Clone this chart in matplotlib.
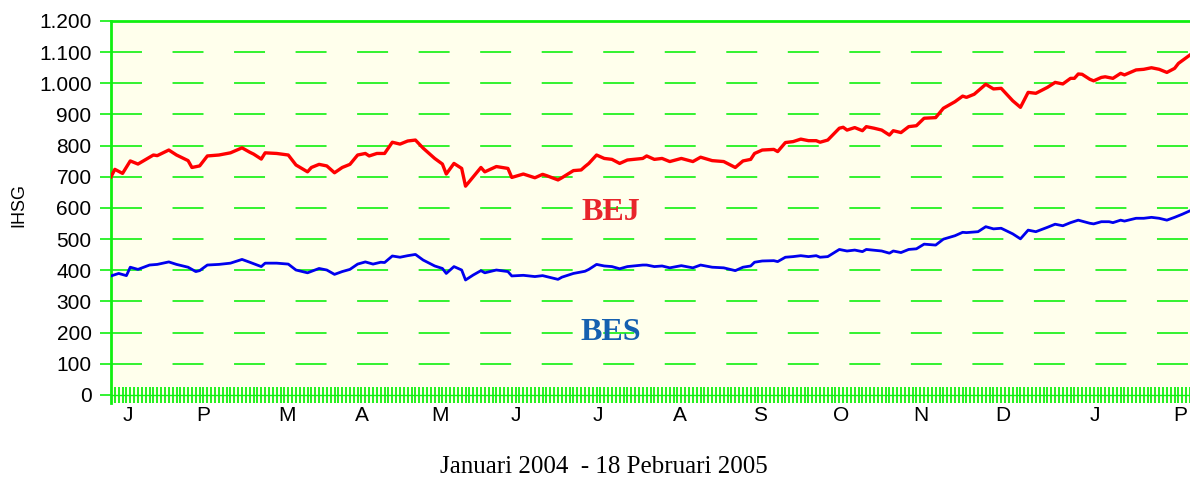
import numpy as np
import matplotlib
matplotlib.use("Agg")
import matplotlib.pyplot as plt

# ---- data (trading-day index, index value) ----
bej_day = [0, 1, 3, 5, 7, 11, 12, 15, 17, 20, 21, 23, 25, 28, 31, 34, 36, 37, 39, 40,
           43, 46, 48, 51, 52, 54, 56, 58, 60, 62, 64, 66, 67, 69, 71, 73, 75, 77, 79, 81,
           84, 86, 87, 89, 91, 92, 94, 96, 97, 100, 103, 104, 107, 110, 112, 113, 116, 117,
           120, 122, 123, 124, 126, 128, 130, 132, 134, 138, 139, 141, 143, 145, 148, 151,
           153, 156, 159, 162, 164, 166, 167, 169, 172, 173, 175, 177, 179, 181, 183, 184,
           186, 189, 190, 191, 193, 195, 196, 198, 200, 202, 203, 205, 207, 209, 211, 214,
           216, 219, 221, 222, 224, 227, 229, 231, 234, 236, 238, 240, 243, 245, 247, 249,
           250, 251, 252, 254, 255, 257, 258, 260, 262, 263, 266, 268, 270, 272, 274, 276,
           277, 280]
bej_val = [700, 724, 711, 751, 741, 770, 768, 786, 770, 752, 730, 735, 767, 770, 777, 793,
           779, 773, 757, 777, 775, 770, 738, 716, 730, 740, 735, 713, 730, 740, 770, 775,
           767, 775, 775, 811, 805, 815, 818, 792, 759, 741, 709, 743, 727, 670, 700, 730,
           716, 733, 727, 698, 709, 697, 708, 704, 690, 697, 720, 722, 733, 743, 770, 759,
           756, 743, 754, 759, 767, 756, 759, 749, 759, 749, 763, 752, 749, 730, 751, 756,
           775, 786, 788, 781, 810, 813, 821, 816, 816, 811, 818, 856, 859, 850, 858, 848,
           861, 856, 850, 834, 848, 842, 861, 864, 888, 890, 920, 941, 959, 955, 965, 997,
           982, 984, 944, 923, 971, 968, 987, 1003, 998, 1016, 1016, 1030, 1029, 1013, 1008,
           1019, 1021, 1016, 1032, 1027, 1043, 1045, 1050, 1045, 1035, 1048, 1064, 1091]

bes_day = [0, 2, 4, 5, 7, 10, 12, 15, 17, 20, 22, 23, 25, 28, 31, 34, 36, 39, 40, 43, 46,
           48, 51, 54, 56, 58, 60, 62, 64, 66, 68, 70, 71, 73, 75, 77, 79, 81, 84, 86, 87,
           89, 91, 92, 94, 96, 97, 100, 103, 104, 107, 110, 112, 116, 117, 120, 123, 124,
           126, 128, 130, 132, 134, 138, 139, 141, 143, 145, 148, 151, 153, 156, 159, 162,
           164, 166, 167, 169, 172, 173, 175, 177, 179, 181, 183, 184, 186, 189, 191, 193,
           195, 196, 200, 202, 203, 205, 207, 209, 211, 214, 216, 219, 221, 222, 225, 227,
           229, 231, 234, 236, 238, 240, 243, 245, 247, 249, 251, 254, 255, 257, 259, 260,
           262, 263, 266, 268, 270, 272, 274, 276, 278, 280]
bes_val = [382, 390, 383, 410, 403, 417, 419, 427, 419, 410, 396, 399, 417, 419, 423, 435,
           426, 412, 423, 423, 420, 401, 392, 406, 401, 387, 396, 403, 420, 427, 420, 426,
           425, 446, 442, 447, 451, 433, 414, 406, 390, 412, 401, 369, 385, 399, 392, 401,
           396, 382, 384, 380, 383, 371, 378, 390, 397, 403, 419, 414, 412, 405, 412, 417,
           417, 412, 414, 408, 415, 408, 417, 410, 408, 399, 410, 414, 426, 430, 431, 428,
           442, 444, 447, 444, 447, 442, 444, 467, 462, 465, 460, 467, 462, 455, 462, 457,
           467, 469, 484, 481, 500, 511, 522, 521, 524, 540, 533, 535, 517, 501, 529, 524,
           538, 548, 543, 553, 561, 551, 549, 556, 556, 553, 561, 558, 567, 567, 570, 567,
           561, 570, 580, 591]

n_days = 281
month_pos = [4.4, 23.9, 45.7, 65.1, 85.4, 105.1, 126.4, 147.6, 168.4, 189.4, 210.2,
             231.4, 255.3, 277.4]
month_labels = ["J", "P", "M", "A", "M", "J", "J", "A", "S", "O", "N", "D", "J", "P"]
y_ticks = list(range(0, 1300, 100))
y_labels = ["0", "100", "200", "300", "400", "500", "600", "700", "800", "900",
            "1.000", "1.100", "1.200"]

GREEN = "#10f010"
SANS = ["Liberation Sans", "DejaVu Sans"]
SERIF = ["Liberation Serif", "DejaVu Serif"]

plt.rcParams["lines.scale_dashes"] = False
fig = plt.figure(figsize=(11.9, 4.78), dpi=100)
ax = fig.add_axes([111 / 1190, 75 / 478, 1079 / 1190, 382 / 478])
ax.set_facecolor("#ffffec")
ax.set_xlim(0, 280)
ax.set_ylim(-25.7, 1200)

# dashed grid
for v in y_ticks[1:-1]:
    ax.axhline(v, color=GREEN, lw=1.2, dashes=(22.3, 22.0), dash_capstyle="butt", zorder=1)
ax.axhline(0, color=GREEN, lw=1.0, zorder=1)
ax.axhline(1200, color=GREEN, lw=2.0, zorder=1, clip_on=False)

# bottom day ticks
ax.vlines(np.arange(n_days), -25.7, 25.7, color=GREEN, lw=1.3, zorder=1)

ax.plot(bej_day, bej_val, color="#ff0000", lw=2.4, zorder=3)
ax.plot(bes_day, bes_val, color="#0000ee", lw=2.0, zorder=3)

ax.text(129.7, 587, "BEJ", color="#e8252b", fontsize=23, fontweight="bold",
        family=SERIF, ha="center", va="center")
ax.text(129.7, 199, "BES", color="#1560b0", fontsize=23, fontweight="bold",
        family=SERIF, ha="center", va="center")

for s in ["top", "right", "bottom"]:
    ax.spines[s].set_visible(False)
ax.spines["left"].set_color(GREEN)
ax.spines["left"].set_linewidth(2.0)

ax.set_yticks(y_ticks)
ax.set_yticklabels(y_labels, family=SANS, fontsize=15)
ax.tick_params(axis="y", length=8, width=1.2, color=GREEN, pad=6, direction="out")
ax.set_xticks(month_pos)
ax.set_xticklabels(month_labels, family=SANS, fontsize=15)
ax.tick_params(axis="x", length=0, pad=2)

fig.text(19 / 1190, 1 - 205 / 478, "IHSG", rotation=90, family=SANS, fontsize=13,
         ha="center", va="center")
fig.text(604 / 1190, 1 - 467 / 478, "Januari 2004  - 18 Pebruari 2005", family=SERIF,
         fontsize=18, ha="center", va="center")

fig.savefig("out.png", dpi=100)
